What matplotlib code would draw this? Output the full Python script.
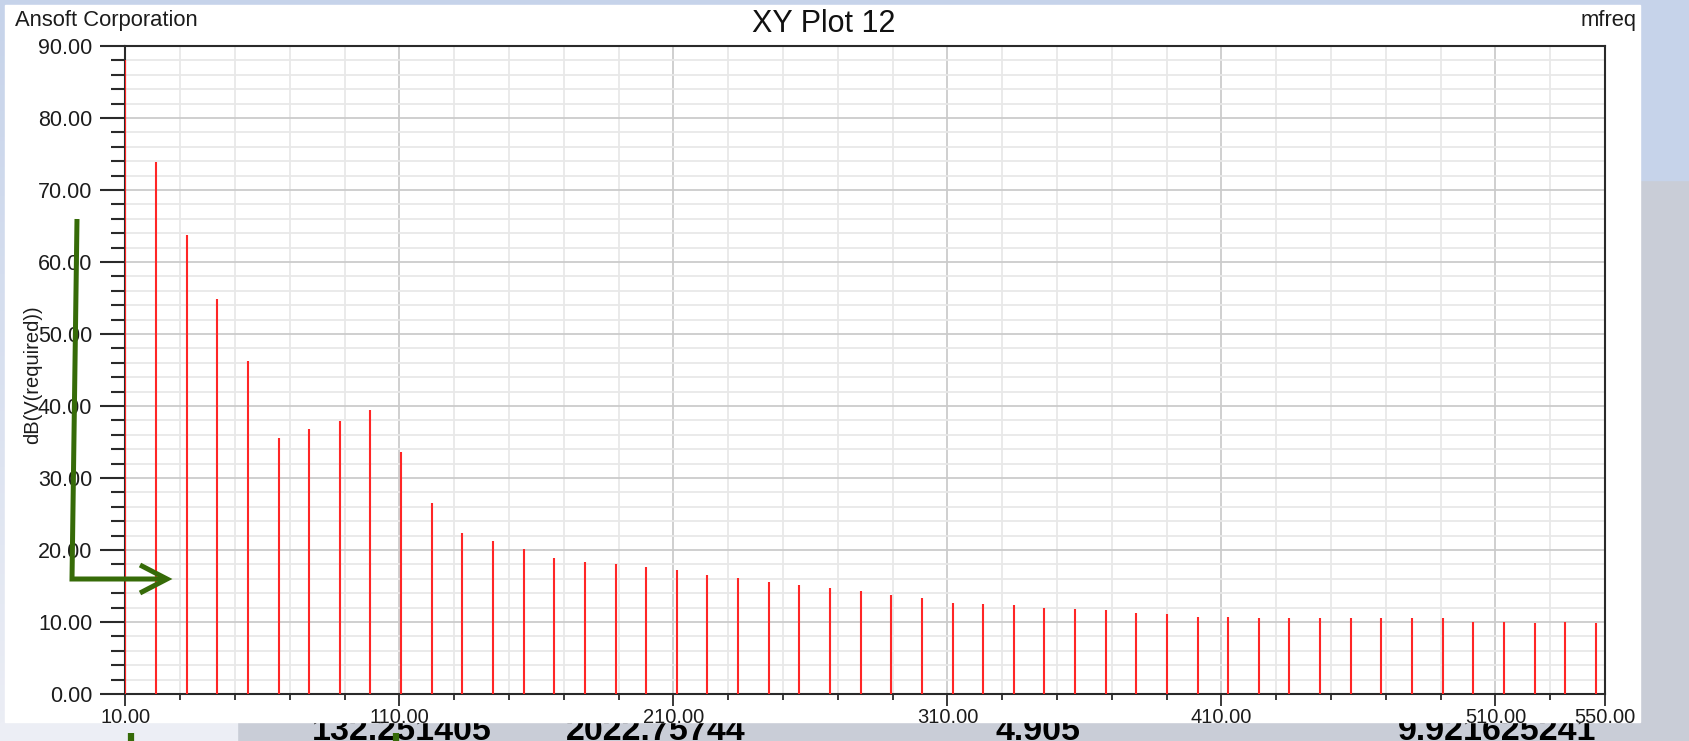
import numpy as np
import matplotlib.pyplot as plt
from matplotlib.patches import Rectangle
from matplotlib.colors import LinearSegmentedColormap
from matplotlib.ticker import FixedLocator, MultipleLocator

W, H = 1690, 741

# спектр: частоты гармоник и уровень dB(V(required))
mfreq = [10.0, 21.2, 32.4, 43.5, 54.7, 65.9, 77.1, 88.3, 99.4, 110.6,
         121.8, 133.0, 144.2, 155.3, 166.5, 177.7, 188.9, 200.1, 211.2, 222.4,
         233.6, 244.8, 256.0, 267.1, 278.3, 289.5, 300.7, 311.9, 323.0, 334.2,
         345.4, 356.6, 367.8, 378.9, 390.1, 401.3, 412.5, 423.7, 434.8, 446.0,
         457.2, 468.4, 479.6, 490.7, 501.9, 513.1, 524.3, 535.5, 546.6]
db_v = [88.0, 73.9, 63.7, 54.8, 46.3, 35.6, 36.8, 37.9, 39.4, 33.6,
        26.5, 22.3, 21.2, 20.1, 18.9, 18.3, 18.0, 17.6, 17.2, 16.5,
        16.1, 15.6, 15.1, 14.7, 14.3, 13.8, 13.4, 12.7, 12.5, 12.3,
        12.0, 11.8, 11.6, 11.3, 11.1, 10.7, 10.7, 10.5, 10.5, 10.5,
        10.5, 10.5, 10.5, 10.5, 10.0, 10.0, 9.8, 10.0, 9.8]

x_major = [10, 110, 210, 310, 410, 510, 550]
x_minor = [30, 50, 70, 90, 130, 150, 170, 190, 230, 250, 270, 290,
           330, 350, 370, 390, 430, 450, 470, 490, 530]
y_major = [0, 10, 20, 30, 40, 50, 60, 70, 80, 90]

# числа на слайде под графиком (почти закрыты окном графика)
slide_numbers = ["132.251405", "2022.75744", "4.905", "9.921625241"]
slide_numbers_x = [312, 566, 996, 1398]

green = "#366b08"
ink = "#1c1c1c"
plt.rcParams["font.family"] = ["Liberation Sans", "DejaVu Sans"]

fig = plt.figure(figsize=(W / 100, H / 100), dpi=100)

# фон слайда (в пикселях)
bg = fig.add_axes([0, 0, 1, 1], zorder=-10)
bg.axis("off")
bg.add_patch(Rectangle((0, 0), W, H, color="#c9cdd7", zorder=0))
bg.add_patch(Rectangle((0, 0), W, 6, color="#c6d3ea", zorder=1))
bg.add_patch(Rectangle((1640, 0), W - 1640, 180, color="#c6d3ea", zorder=1))
grad = np.linspace(0, 1, 200)[:, None]
bg.imshow(grad, extent=(0, 6, H, 0), aspect="auto", zorder=1,
          cmap=LinearSegmentedColormap.from_list("edge", ["#c6d3ea", "#eceef5"]))
bg.add_patch(Rectangle((0, 722), 237, H - 722, color="#eceef5", zorder=1))
for s, x in zip(slide_numbers, slide_numbers_x):
    bg.text(x, 740, s, fontsize=24.5, fontweight="bold", color="black",
            ha="left", va="baseline", zorder=2)
bg.add_patch(Rectangle((5, 5), 1635, 717, color="white", zorder=3))
bg.set_xlim(0, W)
bg.set_ylim(H, 0)

bg.text(15, 26, "Ansoft Corporation", fontsize=15.8, color=ink,
        ha="left", va="baseline", zorder=4)
bg.text(824, 32, "XY Plot 12", fontsize=22, color="#111111",
        ha="center", va="baseline", zorder=4)
bg.text(1637, 26, "mfreq", fontsize=15.8, color=ink,
        ha="right", va="baseline", zorder=4)
bg.text(32.5, 375, "dB(V(required))", fontsize=14.5, color=ink,
        rotation=90, ha="center", va="center", zorder=4)

# график
left, right, top, bottom = 125.5, 1605, 46, 694
ax = fig.add_axes([left / W, 1 - bottom / H, (right - left) / W, (bottom - top) / H])
ax.set_facecolor("white")
ax.vlines(mfreq, 0, db_v, colors="#ff2626", lw=1.5, zorder=3)
ax.set_xlim(10, 550)
ax.set_ylim(0, 90)

ax.xaxis.set_major_locator(FixedLocator(x_major))
ax.xaxis.set_minor_locator(FixedLocator(x_minor))
ax.set_xticklabels([f"{v:.2f}" for v in x_major])
ax.yaxis.set_major_locator(FixedLocator(y_major))
ax.yaxis.set_minor_locator(MultipleLocator(2))
ax.set_yticklabels([f"{v:.2f}" for v in y_major])

ax.set_axisbelow(True)
ax.grid(which="minor", color="#e8e8e8", lw=1.3)
ax.grid(which="major", color="#cbcbcb", lw=1.3)

for side in ["left", "bottom", "top", "right"]:
    ax.spines[side].set_color("#2a2a2a")
    ax.spines[side].set_linewidth(1.5)

ax.tick_params(axis="y", which="major", length=18, width=1.5, color="#2a2a2a",
               pad=6, labelsize=15.5, labelcolor=ink)
ax.tick_params(axis="y", which="minor", length=10, width=1.5, color="#2a2a2a")
ax.tick_params(axis="x", which="major", length=8.5, width=1.3, color="#2a2a2a",
               pad=1.5, labelsize=14.5, labelcolor=ink)
ax.tick_params(axis="x", which="minor", length=4.5, width=1.3, color="#2a2a2a")

# зелёная стрелка поверх графика
ov = fig.add_axes([0, 0, 1, 1], zorder=10)
ov.axis("off")
ov.plot([77, 72, 162], [219, 579, 579], color=green, lw=3.6,
        solid_joinstyle="miter", solid_capstyle="butt")
ov.plot([140, 167, 140], [565, 579, 593], color=green, lw=3.6,
        solid_joinstyle="miter", solid_capstyle="butt")
ov.plot([131, 131], [733, 745], color=green, lw=4.5, solid_capstyle="butt")
ov.plot([396, 396], [733, 745], color=green, lw=4.5, solid_capstyle="butt")
ov.set_xlim(0, W)
ov.set_ylim(H, 0)

fig.savefig("out.png", dpi=100)
